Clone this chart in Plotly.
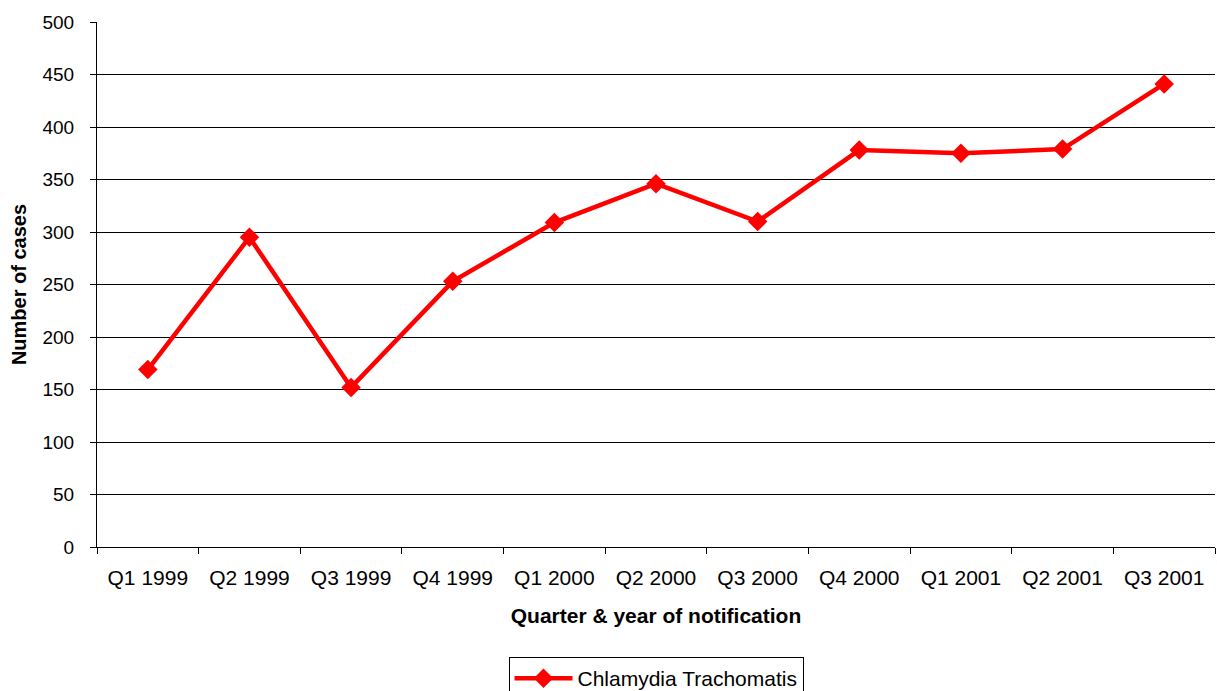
import plotly.graph_objects as go

quarters = ["Q1 1999", "Q2 1999", "Q3 1999", "Q4 1999", "Q1 2000", "Q2 2000",
            "Q3 2000", "Q4 2000", "Q1 2001", "Q2 2001", "Q3 2001"]
cases = [169, 295, 152, 253, 309, 346, 310, 378, 375, 379, 441]
series_name = "Chlamydia Trachomatis"
y_ticks = [0, 50, 100, 150, 200, 250, 300, 350, 400, 450, 500]

FONT = "Liberation Sans, Arial, sans-serif"

fig = go.Figure()
fig.add_trace(go.Scatter(
    x=quarters, y=cases, name=series_name, mode="lines+markers",
    line=dict(color="#FF0000", width=4.5),
    marker=dict(symbol="diamond", size=15, color="#FF0000"),
    showlegend=True,
))

fig.update_layout(
    width=1217, height=691,
    margin=dict(l=97, r=2, t=22, b=144, autoexpand=False),
    paper_bgcolor="white", plot_bgcolor="white",
    font=dict(family=FONT, color="black"),
    showlegend=True,
    legend=dict(
        orientation="h", x=0.5, xanchor="center", y=-0.2095, yanchor="top",
        bordercolor="black", borderwidth=1, bgcolor="white",
        font=dict(family=FONT, size=21, color="black"),
        itemwidth=58,
    ),
    xaxis=dict(
        type="category", tickson="boundaries", ticks="outside", ticklen=6,
        range=[-0.5, len(quarters) - 0.5],
        tickcolor="black", showline=True, linecolor="black", linewidth=1,
        showgrid=False, tickfont=dict(family=FONT, size=21, color="black"),
        ticklabelstandoff=12, automargin=False,
        title=dict(text="<b>Quarter & year of notification</b>",
                   font=dict(family=FONT, size=21, color="black"), standoff=20),
    ),
    yaxis=dict(
        range=[0, 500], tickvals=y_ticks, ticks="outside", ticklen=6,
        tickcolor="black", showline=True, linecolor="black", linewidth=1,
        showgrid=True, gridcolor="black", gridwidth=1, zeroline=False,
        tickfont=dict(family=FONT, size=19, color="black"),
        ticklabelstandoff=12, automargin=False,
        title=dict(text="<b>Number of cases</b>",
                   font=dict(family=FONT, size=20, color="black"), standoff=10),
    ),
)

fig.write_html("out.html", config={"displayModeBar": False},
               post_script="document.body.style.margin='0';")
